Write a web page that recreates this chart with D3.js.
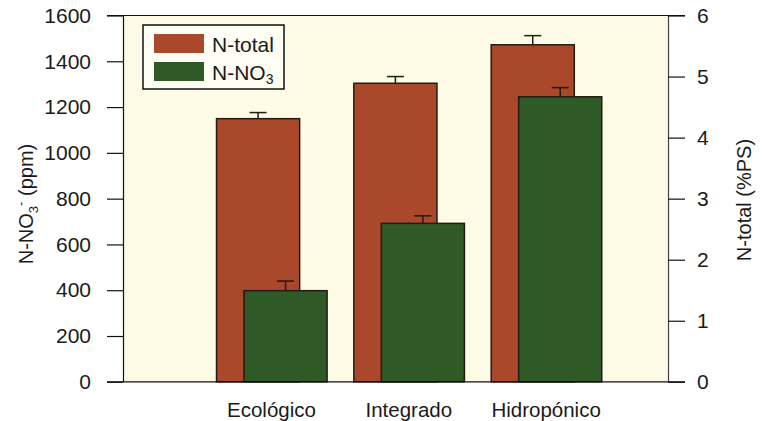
<!DOCTYPE html>
<html>
<head>
<meta charset="utf-8">
<script src="https://cdn.jsdelivr.net/npm/d3@7"></script>
<style>
  html, body { margin: 0; padding: 0; background: #ffffff; }
  svg { display: block; }
  text { font-family: "Liberation Sans", Arial, Helvetica, sans-serif; fill: #1a1a1a; }
</style>
</head>
<body>
<svg id="chart" width="766" height="421"></svg>
<script>
// ---- data ----
const categories = ["Ecológico", "Integrado", "Hidropónico"];
const nTotal = [4.31, 4.89, 5.52];        // %PS (right axis)
const nTotalErr = [0.10, 0.11, 0.15];
const nNO3 = [398, 692, 1245];             // ppm (left axis)
const nNO3Err = [42, 33, 40];
const leftTicks = [0, 200, 400, 600, 800, 1000, 1200, 1400, 1600];
const rightTicks = [0, 1, 2, 3, 4, 5, 6];
const seriesNames = ["N-total", "N-NO"];

// ---- layout ----
const svg = d3.select("#chart");
const X0 = 123, X1 = 668, Y0 = 381.8, Y1 = 15.5;
const orange = "#a9482b", green = "#2f5a27", cream = "#fdfbe6", outline = "#231a12";
const fontFam = '"Liberation Sans", Arial, sans-serif';

const x = d3.scaleBand().domain(categories).range([202.8, 614.8]).paddingInner(0).paddingOuter(0);
const yL = d3.scaleLinear().domain([0, 1600]).range([Y0, Y1]);
const yR = d3.scaleLinear().domain([0, 6]).range([Y0, Y1]);
const step = x.step();
const barW = step * 0.605;
const cx = c => x(c) + step / 2;

// plot background
svg.append("rect").attr("x", X0).attr("y", Y1).attr("width", X1 - X0).attr("height", Y0 - Y1).attr("fill", cream);

// bars
const data = categories.map((c, i) => ({c, t: nTotal[i], te: nTotalErr[i], n: nNO3[i], ne: nNO3Err[i]}));
const g = svg.append("g");
const capW = 17;

data.forEach(d => {
  const ox = cx(d.c) - step * 0.4;
  g.append("line").attr("x1", ox + barW / 2).attr("x2", ox + barW / 2)
    .attr("y1", yR(d.t)).attr("y2", yR(d.t + d.te)).attr("stroke", outline).attr("stroke-width", 1.5);
  g.append("line").attr("x1", ox + barW / 2 - capW / 2).attr("x2", ox + barW / 2 + capW / 2)
    .attr("y1", yR(d.t + d.te)).attr("y2", yR(d.t + d.te)).attr("stroke", outline).attr("stroke-width", 1.5);
  g.append("rect").attr("x", ox).attr("y", yR(d.t)).attr("width", barW).attr("height", yR(0) - yR(d.t))
    .attr("fill", orange).attr("stroke", outline).attr("stroke-width", 1.5);
});
data.forEach(d => {
  const gx = cx(d.c) - step * 0.2;
  g.append("line").attr("x1", gx + barW / 2).attr("x2", gx + barW / 2)
    .attr("y1", yL(d.n)).attr("y2", yL(d.n + d.ne)).attr("stroke", outline).attr("stroke-width", 1.5);
  g.append("line").attr("x1", gx + barW / 2 - capW / 2).attr("x2", gx + barW / 2 + capW / 2)
    .attr("y1", yL(d.n + d.ne)).attr("y2", yL(d.n + d.ne)).attr("stroke", outline).attr("stroke-width", 1.5);
  g.append("rect").attr("x", gx).attr("y", yL(d.n)).attr("width", barW).attr("height", yL(0) - yL(d.n))
    .attr("fill", green).attr("stroke", outline).attr("stroke-width", 1.5);
});

// top and bottom frame lines
svg.append("line").attr("x1", 107).attr("x2", 685).attr("y1", Y1).attr("y2", Y1).attr("stroke", "#111").attr("stroke-width", 1.2);
svg.append("line").attr("x1", 107).attr("x2", 685).attr("y1", Y0).attr("y2", Y0).attr("stroke", "#111").attr("stroke-width", 1.2);

// left axis
const axL = svg.append("g").attr("transform", `translate(${X0},0)`)
  .call(d3.axisLeft(yL).tickValues(leftTicks).tickFormat(d3.format("d")).tickSize(16).tickSizeOuter(0).tickPadding(16));
axL.select(".domain").attr("stroke", "#111").attr("stroke-width", 1.2);
axL.selectAll(".tick line").attr("stroke", "#111").attr("stroke-width", 1.2);
axL.selectAll(".tick text").attr("font-size", 21).attr("font-family", fontFam).attr("fill", "#1a1a1a");

// right axis
const axR = svg.append("g").attr("transform", `translate(${X1},0)`)
  .call(d3.axisRight(yR).tickValues(rightTicks).tickFormat(d3.format("d")).tickSize(17).tickSizeOuter(0).tickPadding(12));
axR.select(".domain").attr("stroke", "#444").attr("stroke-width", 1.2);
axR.selectAll(".tick line").attr("stroke", "#111").attr("stroke-width", 1.2);
axR.selectAll(".tick text").attr("font-size", 21).attr("font-family", fontFam).attr("fill", "#1a1a1a");

// bottom axis labels
const axB = svg.append("g").attr("transform", `translate(0,${Y0})`)
  .call(d3.axisBottom(x).tickSize(0).tickPadding(21));
axB.select(".domain").remove();
axB.selectAll(".tick text").attr("font-size", 20.5).attr("font-family", fontFam).attr("fill", "#1a1a1a");

// axis titles
const tl = svg.append("text").attr("transform", "translate(33,204) rotate(-90)")
  .attr("text-anchor", "middle").attr("font-size", 20);
tl.append("tspan").text("N-NO");
tl.append("tspan").text("3").attr("font-size", 13).attr("dy", 5);
tl.append("tspan").text("-").attr("font-size", 13).attr("dy", -13);
tl.append("tspan").text(" (ppm)").attr("dy", 8);

svg.append("text").attr("transform", "translate(751,200) rotate(-90)")
  .attr("text-anchor", "middle").attr("font-size", 20).text("N-total (%PS)");

// legend
const lg = svg.append("g");
lg.append("rect").attr("x", 143).attr("y", 25).attr("width", 141).attr("height", 64)
  .attr("fill", "#fefdf3").attr("stroke", "#111").attr("stroke-width", 1.5);
lg.append("rect").attr("x", 154).attr("y", 34).attr("width", 50).attr("height", 19).attr("fill", orange);
lg.append("rect").attr("x", 154).attr("y", 62).attr("width", 50).attr("height", 19).attr("fill", green);
lg.append("text").attr("x", 212).attr("y", 52).attr("font-size", 21).text(seriesNames[0]);
const t2 = lg.append("text").attr("x", 212).attr("y", 80).attr("font-size", 21);
t2.append("tspan").text(seriesNames[1]);
t2.append("tspan").text("3").attr("font-size", 14).attr("dy", 4);
</script>
</body>
</html>
